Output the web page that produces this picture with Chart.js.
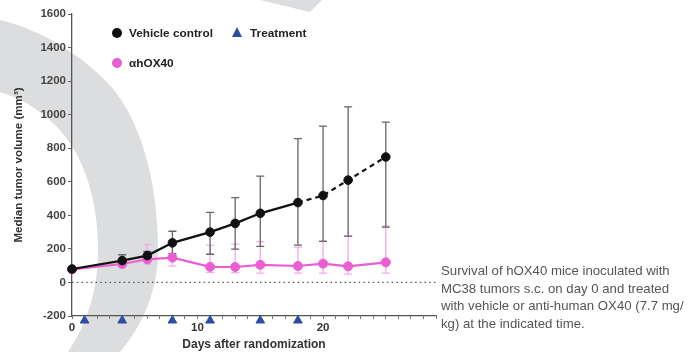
<!DOCTYPE html>
<html>
<head>
<meta charset="utf-8">
<script src="https://cdn.jsdelivr.net/npm/chart.js@4.4.1/dist/chart.umd.min.js"></script>
<style>
  html, body { margin: 0; padding: 0; background: #fff; }
  body { width: 696px; height: 352px; position: relative; overflow: hidden; font-family: "Liberation Sans", Arial, sans-serif; }
  #deco { position: absolute; left: 0; top: 0; }
  #wrap { position: absolute; left: 0; top: 0; width: 696px; height: 352px; }
  .lg { position: absolute; font-size: 11.8px; font-weight: bold; color: #222; line-height: 14px; }
  .dot { position: absolute; width: 10px; height: 10px; border-radius: 50%; }
  .tri { position: absolute; width: 0; height: 0; border-left: 5.5px solid transparent; border-right: 5.5px solid transparent; border-bottom: 10px solid #2b4ea0; }
  #caption { position: absolute; left: 441px; top: 262px; font-size: 13.2px; line-height: 17.7px; color: #555; white-space: nowrap; }
</style>
</head>
<body>
<svg id="deco" width="696" height="352">
  <path fill="#dcdddf" d="M0,20 C35,28 75,50 105,80 C140,115 158,180 158,250 C158,292 142,326 120,352 L68,352 C88,322 99,288 98,245 C97,190 80,150 55,125 C38,108 18,97 0,92 Z"/>
  <path fill="#dcdddf" d="M260,0 L322,0 L310,12 Z"/>
</svg>
<div id="wrap"><canvas id="chart" width="696" height="352"></canvas></div>

<div class="dot" style="left:112px; top:28px; background:#111;"></div>
<div class="lg" style="left:129px; top:26px;">Vehicle control</div>
<div class="tri" style="left:232px; top:27px;"></div>
<div class="lg" style="left:250px; top:26px;">Treatment</div>
<div class="dot" style="left:112px; top:58px; background:#e95fcf;"></div>
<div class="lg" style="left:129px; top:56px;">αhOX40</div>

<div id="caption">Survival of hOX40 mice inoculated with<br>MC38 tumors s.c. on day 0 and treated<br>with vehicle or anti-human OX40 (7.7 mg/<br>kg) at the indicated time.</div>

<script>
const days = [0, 4, 6, 8, 11, 13, 15, 18, 20, 22, 25];

const vehicle   = [80, 130, 160, 236, 300, 352, 412, 476, 518, 610, 748];
const vehicleHi = [92, 165, 185, 305, 418, 505, 634, 857, 932, 1046, 955];
const vehicleLo = [70, 100, 140, 172, 168, 198, 215, 222, 245, 276, 330];

const ahox40   = [78, 110, 138, 148, 93, 92, 105, 98, 112, 96, 120];
const ahox40Hi = [88, 140, 226, 250, 222, 228, 243, 210, 246, 276, 336];
const ahox40Lo = [70, 95, 110, 97, 60, 58, 56, 56, 55, 50, 55];

const treatDays = [1, 4, 8, 11, 15, 18];
const treatLevel = -227;

const yTicks = [-200, 0, 200, 400, 600, 800, 1000, 1200, 1400, 1600];

const pink = '#eb5ed2';
const pinkLight = '#f4a9e8';

function toPoints(xs, ys) {
    return xs.map((d, i) => ({ x: d, y: ys[i] }));
}

// error bars + dotted zero line, drawn under the points
const extras = {
    id: 'extras',
    beforeDatasetsDraw(chart) {
        const { ctx, chartArea, scales } = chart;
        const xs = scales.x, ys = scales.y;
        ctx.save();

        const y0 = ys.getPixelForValue(0);
        ctx.strokeStyle = '#555';
        ctx.lineWidth = 1.3;
        ctx.setLineDash([1.5, 3.2]);
        ctx.beginPath();
        ctx.moveTo(chartArea.left, y0);
        ctx.lineTo(chartArea.right, y0);
        ctx.stroke();
        ctx.setLineDash([]);

        function bars(hi, lo, color) {
            ctx.strokeStyle = color;
            ctx.lineWidth = 1.3;
            days.forEach((d, i) => {
                const px = xs.getPixelForValue(d);
                const top = ys.getPixelForValue(hi[i]);
                const bot = ys.getPixelForValue(lo[i]);
                ctx.beginPath();
                ctx.moveTo(px, top); ctx.lineTo(px, bot);
                ctx.moveTo(px - 4, top); ctx.lineTo(px + 4, top);
                ctx.moveTo(px - 4, bot); ctx.lineTo(px + 4, bot);
                ctx.stroke();
            });
        }
        bars(ahox40Hi, ahox40Lo, pinkLight);
        bars(vehicleHi, vehicleLo, '#666');
        ctx.restore();
    }
};

new Chart(document.getElementById('chart'), {
    type: 'line',
    data: {
        datasets: [
            {
                label: 'Vehicle control',
                data: toPoints(days, vehicle),
                borderColor: '#111',
                backgroundColor: '#111',
                borderWidth: 2.2,
                pointRadius: 4.3,
                pointBorderWidth: 1,
                pointHoverRadius: 4.3,
                segment: {
                    borderDash: ctx => ctx.p0.parsed.x >= 18 ? [5, 4] : undefined
                },
                clip: false,
                order: 1
            },
            {
                label: 'αhOX40',
                data: toPoints(days, ahox40),
                borderColor: pink,
                backgroundColor: pink,
                borderWidth: 2.2,
                pointRadius: 4.5,
                pointBorderWidth: 1,
                pointHoverRadius: 4.5,
                clip: false,
                order: 2
            },
            {
                label: 'Treatment',
                data: treatDays.map(d => ({ x: d, y: treatLevel })),
                showLine: false,
                pointStyle: 'triangle',
                pointRadius: 5,
                pointBorderWidth: 1,
                borderColor: '#2b4ea0',
                backgroundColor: '#2b4ea0',
                clip: false,
                order: 0
            }
        ]
    },
    options: {
        responsive: false,
        animation: false,
        maintainAspectRatio: false,
        layout: { padding: { top: 14, right: 260, left: 0, bottom: 0 } },
        plugins: { legend: { display: false }, tooltip: { enabled: false } },
        scales: {
            x: {
                type: 'linear',
                min: 0,
                max: 29,
                afterFit: s => { s.height = 36; },
                border: { color: '#555', width: 1.3 },
                grid: { drawOnChartArea: false, tickLength: 3, tickColor: '#777', tickWidth: 1 },
                ticks: {
                    stepSize: 1,
                    autoSkip: false,
                    maxRotation: 0,
                    padding: 2,
                    color: '#333',
                    font: { family: 'Liberation Sans', size: 11.5, weight: 'bold' },
                    callback: v => (v % 10 === 0 ? String(v) : '')
                },
                title: {
                    display: true,
                    text: 'Days after randomization',
                    color: '#333',
                    padding: { top: 3, bottom: 0 },
                    font: { family: 'Liberation Sans', size: 12, weight: 'bold' }
                }
            },
            y: {
                min: -200,
                max: 1600,
                afterFit: s => { s.width = 72; },
                afterBuildTicks: s => { s.ticks = yTicks.map(v => ({ value: v })); },
                border: { color: '#555', width: 1.3 },
                grid: { drawOnChartArea: false, tickLength: 4, tickColor: '#666', tickWidth: 1 },
                ticks: {
                    padding: 2,
                    color: '#444',
                    font: { family: 'Liberation Sans', size: 11.5, weight: 'bold' },
                    callback: v => String(v)
                },
                title: {
                    display: true,
                    text: 'Median tumor volume (mm³)',
                    color: '#333',
                    padding: { top: 12, bottom: 4 },
                    font: { family: 'Liberation Sans', size: 11.6, weight: 'bold' }
                }
            }
        }
    },
    plugins: [extras]
});
</script>
</body>
</html>
